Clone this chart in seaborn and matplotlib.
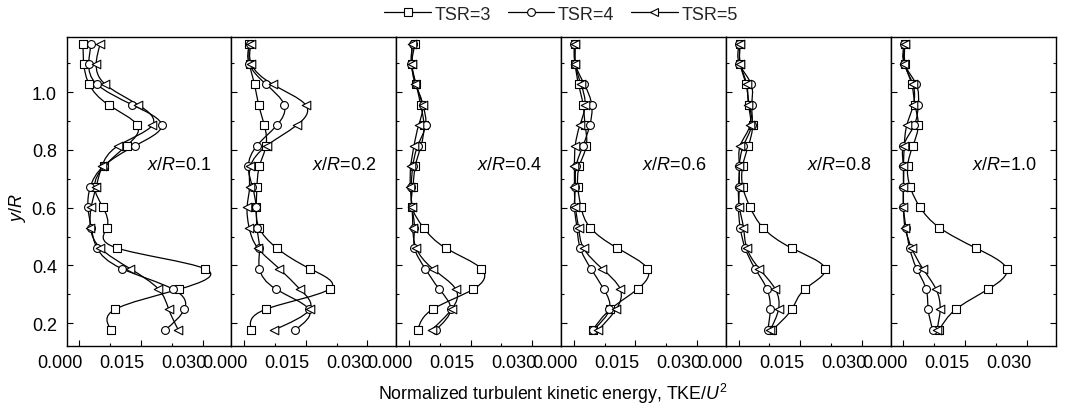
import numpy as np
import matplotlib
matplotlib.use("Agg")
import matplotlib.pyplot as plt
import seaborn as sns
from matplotlib.path import Path
from matplotlib.patches import PathPatch
from matplotlib.lines import Line2D
from matplotlib.ticker import MultipleLocator, FormatStrFormatter
from matplotlib.transforms import ScaledTranslation

sns.set_theme(style="ticks")
plt.rcParams['font.family'] = ['Liberation Sans', 'DejaVu Sans']
plt.rcParams['mathtext.fontset'] = 'custom'
plt.rcParams['mathtext.rm'] = 'Liberation Sans'
plt.rcParams['mathtext.it'] = 'Liberation Sans:italic'

# ---------------- data ----------------
y_R = [1.168, 1.098, 1.027, 0.956, 0.885, 0.815, 0.744, 0.673,
       0.602, 0.531, 0.460, 0.389, 0.318, 0.248, 0.177]

stations = ['0.1', '0.2', '0.4', '0.6', '0.8', '1.0']
tsr_labels = ['TSR=3', 'TSR=4', 'TSR=5']

# TKE/U^2, in units of 1e-3
tsr3_x01 = [1.0, 1.2, 2.5, 7.2, 14.2, 11.6, 6.2, 3.8, 5.8, 6.8, 9.3, 30.5, 24.4, 8.8, 7.8]
tsr4_x01 = [3.0, 2.4, 4.4, 13.0, 20.1, 13.7, 6.0, 2.8, 2.2, 3.0, 4.4, 10.4, 22.8, 25.6, 21.0]
tsr5_x01 = [5.2, 4.2, 6.4, 14.4, 17.8, 9.6, 5.6, 4.2, 3.0, 2.8, 5.2, 12.4, 19.3, 21.8, 24.1]

tsr3_x02 = [1.3, 1.4, 2.6, 3.6, 5.0, 5.4, 3.8, 3.2, 3.0, 3.7, 8.0, 16.0, 20.8, 5.3, 1.8]
tsr4_x02 = [1.4, 1.3, 5.4, 9.8, 8.0, 3.2, 1.1, 2.1, 3.0, 3.2, 3.8, 3.8, 7.8, 15.8, 12.5]
tsr5_x02 = [1.8, 1.8, 7.0, 15.0, 12.8, 5.6, 1.6, 1.4, 0.8, 1.3, 3.4, 8.6, 13.6, 16.0, 7.4]

tsr3_x04 = [1.6, 0.8, 1.8, 2.9, 3.7, 3.0, 1.6, 1.0, 0.8, 3.6, 9.0, 17.6, 15.7, 5.8, 2.2]
tsr4_x04 = [1.0, 0.6, 1.8, 3.4, 4.1, 2.2, 1.0, 0.6, 0.8, 1.4, 1.4, 4.0, 7.4, 10.2, 6.6]
tsr5_x04 = [0.8, 0.8, 1.6, 3.4, 2.4, 1.3, 0.5, 0.4, 0.8, 1.0, 1.8, 5.8, 11.4, 10.4, 5.6]

tsr3_x06 = [0.4, 0.4, 1.2, 2.3, 2.8, 3.1, 1.4, 1.0, 1.8, 4.0, 10.6, 17.9, 15.5, 8.9, 4.7]
tsr4_x06 = [0.2, 0.4, 2.6, 4.4, 3.9, 2.3, 0.6, 0.4, 0.2, 0.8, 1.6, 4.2, 7.3, 8.7, 4.8]
tsr5_x06 = [0.4, 0.4, 1.8, 2.8, 1.5, 0.4, 0.2, 0.2, 0.4, 1.2, 2.4, 6.9, 11.3, 10.3, 6.0]

tsr3_x08 = [0.4, 0.4, 1.8, 2.6, 3.4, 2.4, 1.0, 1.0, 2.8, 5.9, 12.9, 21.0, 16.1, 12.9, 8.2]
tsr4_x08 = [0.2, 0.2, 3.1, 3.2, 3.2, 1.2, 0.2, 0.2, 0.0, 0.4, 1.6, 4.0, 6.9, 7.7, 7.1]
tsr5_x08 = [0.4, 0.4, 2.0, 2.4, 2.8, 0.4, 0.2, 0.0, 0.2, 1.2, 2.0, 5.0, 8.9, 9.7, 7.7]

tsr3_x10 = [0.4, 0.4, 2.0, 2.8, 3.6, 2.3, 1.0, 1.6, 4.0, 8.7, 17.6, 25.0, 20.6, 12.7, 8.7]
tsr4_x10 = [0.2, 0.2, 3.1, 3.6, 2.6, 0.0, 0.0, 0.0, 0.0, 0.6, 1.5, 3.2, 5.5, 6.0, 7.1]
tsr5_x10 = [0.4, 0.2, 2.3, 2.4, 0.8, 0.2, 0.0, 0.0, 0.0, 0.4, 2.0, 4.7, 7.9, 8.9, 8.1]

panels = [
    [tsr3_x01, tsr4_x01, tsr5_x01],
    [tsr3_x02, tsr4_x02, tsr5_x02],
    [tsr3_x04, tsr4_x04, tsr5_x04],
    [tsr3_x06, tsr4_x06, tsr5_x06],
    [tsr3_x08, tsr4_x08, tsr5_x08],
    [tsr3_x10, tsr4_x10, tsr5_x10],
]
scale = 1e-3

markers = ['s', 'o', '<']
msizes = [30, 32, 38]


def smooth_path(xs, ys):
    """Natural parametric cubic spline through the points, as a Bezier path."""
    P = np.column_stack([xs, ys])
    n = len(P)
    A = np.zeros((n, n))
    B = np.zeros((n, 2))
    A[0, 0], A[0, 1] = 2, 1
    B[0] = 3 * (P[1] - P[0])
    A[-1, -2], A[-1, -1] = 1, 2
    B[-1] = 3 * (P[-1] - P[-2])
    for i in range(1, n - 1):
        A[i, i - 1], A[i, i], A[i, i + 1] = 1, 4, 1
        B[i] = 3 * (P[i + 1] - P[i - 1])
    D = np.linalg.solve(A, B)
    verts = [P[0]]
    codes = [Path.MOVETO]
    for i in range(n - 1):
        verts += [P[i] + D[i] / 3.0, P[i + 1] - D[i + 1] / 3.0, P[i + 1]]
        codes += [Path.CURVE4] * 3
    return Path(verts, codes)


fig = plt.figure(figsize=(10.79, 4.06), dpi=100)
axes = fig.subplots(1, 6, sharey=True)
fig.subplots_adjust(left=66.5 / 1079, right=1056 / 1079,
                    bottom=1 - 346.7 / 406, top=1 - 38.3 / 406, wspace=0)

fs = 13
offset = ScaledTranslation(4 / 100, 0, fig.dpi_scale_trans)

for k, ax in enumerate(axes):
    for j in range(3):
        xs = np.array(panels[k][j]) * scale
        ys = np.array(y_R)
        ax.add_patch(PathPatch(smooth_path(xs, ys), fill=False,
                               edgecolor='black', lw=0.9, zorder=2))
        sns.scatterplot(x=xs, y=ys, ax=ax, marker=markers[j], s=msizes[j],
                        facecolor='white', edgecolor='black', linewidth=0.8,
                        zorder=3, legend=False)
    ax.set_xlim(-0.003, 0.037)
    ax.set_ylim(0.122, 1.19)
    ax.xaxis.set_major_locator(MultipleLocator(0.015))
    ax.xaxis.set_minor_locator(MultipleLocator(0.0075))
    ax.xaxis.set_major_formatter(FormatStrFormatter('%.3f'))
    ax.yaxis.set_major_locator(MultipleLocator(0.2))
    ax.yaxis.set_minor_locator(MultipleLocator(0.1))
    ax.yaxis.set_major_formatter(FormatStrFormatter('%.1f'))
    ax.tick_params(which='both', direction='in', top=False,
                   right=(k == 5), left=True, bottom=True,
                   width=0.8, color='black', labelsize=fs, labelcolor='black')
    ax.tick_params(which='major', length=4.5)
    ax.tick_params(which='minor', length=2.5)
    ax.tick_params(axis='x', pad=6)
    ax.tick_params(axis='y', pad=7)
    for sp in ax.spines.values():
        sp.set_linewidth(1.0)
        sp.set_color('black')
    ax.set_xlabel('')
    ax.set_ylabel('')
    ax.grid(False)
    ax.text(0.49, 0.75, r'$x$/$R$=' + stations[k], transform=ax.get_yaxis_transform(),
            ha='left', va='center', fontsize=fs, color='black')
    for lab in ax.get_xticklabels():
        lab.set_ha('right')
        lab.set_transform(lab.get_transform() + offset)

fig.text(18 / 1079, 1 - 208.6 / 406, r'$y$/$R$', rotation=90,
         ha='center', va='center', fontsize=fs, color='black')
fig.text(553 / 1079, 1 - 400 / 406,
         r'Normalized turbulent kinetic energy, TKE/$U^2$',
         ha='center', va='baseline', fontsize=12.8, color='black')

handles = [Line2D([0], [0], color='black', lw=0.9, marker=m, markersize=sz,
                  markerfacecolor='white', markeredgecolor='black',
                  markeredgewidth=0.8)
           for m, sz in zip(markers, [5.5, 5.6, 6.2])]
fig.legend(handles, tsr_labels, loc='center', bbox_to_anchor=(561 / 1079, 1 - 15 / 406),
           ncol=3, frameon=False, fontsize=fs, handlelength=2.6,
           handletextpad=0.2, columnspacing=0.9, borderaxespad=0)

fig.savefig('out.png', dpi=100)
